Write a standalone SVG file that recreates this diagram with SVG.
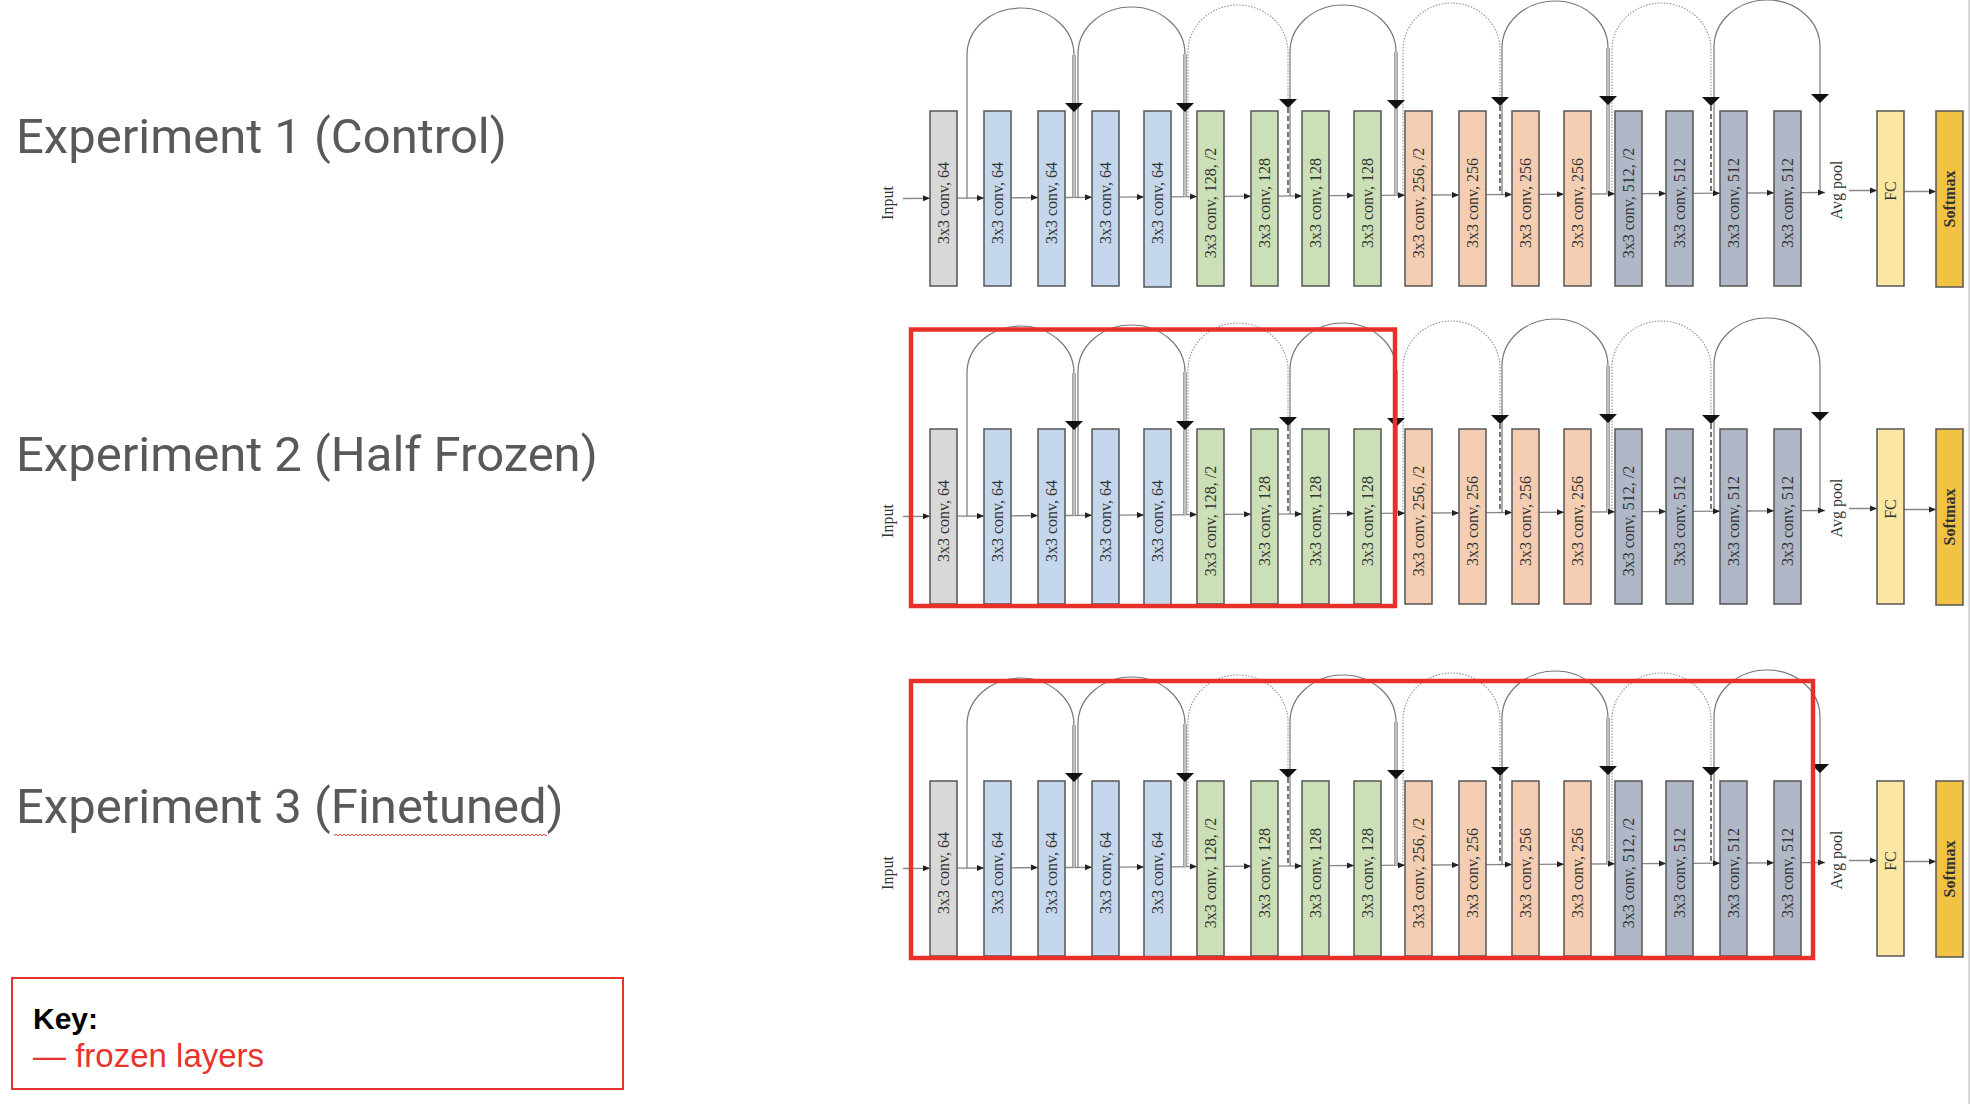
<svg xmlns="http://www.w3.org/2000/svg" width="1972" height="1104" viewBox="0 0 1972 1104">
<defs>
<style>
.lbl{font-family:Roboto,"Liberation Sans",sans-serif;font-size:49px;fill:#595959}
.n rect{stroke:#555;stroke-width:1.5}
.n text,.t{font-family:"Liberation Serif","Times New Roman",serif;font-size:16px;fill:#333;text-anchor:middle;dominant-baseline:central}
.c0{fill:#d8d8d8}.c1{fill:#c4d7ed}.c2{fill:#cce0b8}.c3{fill:#f4ceb2}.c4{fill:#b0b8c8}.c5{fill:#fbe6a2}.c6{fill:#f1c244}
.ml{stroke:#888;stroke-width:1.3;fill:none}
.ah{fill:#222}
.arc{stroke:#777;stroke-width:1.2;fill:none}
.arcd{stroke:#999;stroke-width:1.2;stroke-dasharray:1.5 1.5;fill:none}
.leg{stroke:#888;stroke-width:3.5;fill:none}
.legi{stroke:#e4e4e4;stroke-width:1.2;fill:none}
.legd{stroke:#555;stroke-width:1.6;stroke-dasharray:5 3;fill:none}
.tri{fill:#111}
.frame{fill:none;stroke:#e8302a;stroke-width:4.5}
</style>
<pattern id="sq" x="334" y="833" width="4" height="4" patternUnits="userSpaceOnUse"><path d="M0,3 L2,1 L4,3" stroke="#e53935" stroke-width="0.9" fill="none"/></pattern>
</defs>
<rect width="1972" height="1104" fill="#fff"/>
<line x1="1969" y1="0" x2="1969" y2="1104" stroke="#cfcfcf" stroke-width="1.5"/>

<g id="titles">
<text class="lbl" x="16" y="153">Experiment 1 (Control)</text>
<text class="lbl" x="16" y="471">Experiment 2 (Half Frozen)</text>
<text class="lbl" x="16" y="823">Experiment 3 (Finetuned)</text>
<rect x="334" y="833" width="213" height="4" fill="url(#sq)"/>
</g>

<g id="key">
<rect x="12" y="978" width="611" height="111" fill="none" stroke="#e8342c" stroke-width="2"/>
<text x="33" y="1029" font-family="'Liberation Sans',Arial,sans-serif" font-size="30" font-weight="bold" fill="#000">Key:</text>
<text x="33" y="1067" font-family="'Liberation Sans',Arial,sans-serif" font-size="33" fill="#e8342c">— frozen layers</text>
</g>

<g id="row1">
<g id="r1-connectors">
<path class="ml" d="M903,198.5 L930,198.3 M957,198.2 L984,198 M1011,197.8 L1038,197.6 M1065,197.5 L1092,197.3 M1119,197.1 L1144,196.9 M1171,196.8 L1197,196.6 M1224,196.4 L1251,196.2 M1278,196.1 L1302,195.9 M1329,195.7 L1354,195.5 M1381,195.4 L1405,195.2 M1432,195 L1459,194.9 M1486,194.7 L1512,194.5 M1539,194.4 L1564,194.2 M1591,194 L1615,193.8 M1642,193.7 L1666,193.5 M1693,193.3 L1720,193.2 M1747,193 L1774,192.8 M1801,192.7 L1825,192.5 M1849,190.5 L1877,190.5 M1904,191.5 L1936,191.5"/>
<path class="arc" d="M967,198.1 V55 A53.5,47 0 0 1 1074,55 M1078,197.4 V54 A53.5,47 0 0 1 1185,54 M1290,196 V52 A53,47 0 0 1 1396,52 M1502,194.6 V48 A53,47 0 0 1 1608,48 M1714,193.2 V47 A53,47 0 0 1 1820,47 V192.5"/>
<path class="arcd" d="M1188,196.7 V52 A50,47 0 0 1 1288,52 V100 M1403,195.2 V50 A48.5,47 0 0 1 1500,50 V98 M1612,193.9 V50 A49.5,47 0 0 1 1711,50 V98"/>
<path class="leg" d="M1074,55 V197.4 M1185,54 V196.7 M1396,52 V195.3 M1608,48 V193.9"/>
<path class="legi" d="M1074,55 V197.4 M1185,54 V196.7 M1396,52 V195.3 M1608,48 V193.9"/>
<path class="legd" d="M1288,108 V196 M1500,106 V194.6 M1711,106 V193.2"/>
<path class="tri" d="M1065,103 h18 l-9,9 z M1176,103 h18 l-9,9 z M1279,99 h18 l-9,9 z M1387,100 h18 l-9,9 z M1491,97 h18 l-9,9 z M1599,96 h18 l-9,9 z M1702,97 h18 l-9,9 z M1811,94 h18 l-9,9 z"/>
<path class="ah" d="M930,198.3 l-7,-3 v6 z M984,198 l-7,-3 v6 z M1038,197.6 l-7,-3 v6 z M1092,197.3 l-7,-3 v6 z M1144,196.9 l-7,-3 v6 z M1197,196.6 l-7,-3 v6 z M1251,196.2 l-7,-3 v6 z M1302,195.9 l-7,-3 v6 z M1354,195.5 l-7,-3 v6 z M1405,195.2 l-7,-3 v6 z M1459,194.9 l-7,-3 v6 z M1512,194.5 l-7,-3 v6 z M1564,194.2 l-7,-3 v6 z M1615,193.8 l-7,-3 v6 z M1666,193.5 l-7,-3 v6 z M1720,193.2 l-7,-3 v6 z M1774,192.8 l-7,-3 v6 z M1825,192.5 l-7,-3 v6 z M1877,190.5 l-7,-3 v6 z M1936,191.5 l-7,-3 v6 z"/>
</g>
<g id="r1-input"><text class="t" transform="translate(887,203) rotate(-90)" font-size="15" fill="#222">Input</text></g>
<g id="r1-b1" class="n" transform="translate(930,111)"><rect class="c0" width="27" height="175"/><text transform="translate(13.5,92) rotate(-90)">3x3 conv, 64</text></g>
<g id="r1-b2" class="n" transform="translate(984,111)"><rect class="c1" width="27" height="175"/><text transform="translate(13.5,92) rotate(-90)">3x3 conv, 64</text></g>
<g id="r1-b3" class="n" transform="translate(1038,111)"><rect class="c1" width="27" height="175"/><text transform="translate(13.5,92) rotate(-90)">3x3 conv, 64</text></g>
<g id="r1-b4" class="n" transform="translate(1092,111)"><rect class="c1" width="27" height="175"/><text transform="translate(13.5,92) rotate(-90)">3x3 conv, 64</text></g>
<g id="r1-b5" class="n" transform="translate(1144,111)"><rect class="c1" width="27" height="176"/><text transform="translate(13.5,92) rotate(-90)">3x3 conv, 64</text></g>
<g id="r1-b6" class="n" transform="translate(1197,111)"><rect class="c2" width="27" height="175"/><text transform="translate(13.5,92) rotate(-90)">3x3 conv, 128, /2</text></g>
<g id="r1-b7" class="n" transform="translate(1251,111)"><rect class="c2" width="27" height="175"/><text transform="translate(13.5,92) rotate(-90)">3x3 conv, 128</text></g>
<g id="r1-b8" class="n" transform="translate(1302,111)"><rect class="c2" width="27" height="175"/><text transform="translate(13.5,92) rotate(-90)">3x3 conv, 128</text></g>
<g id="r1-b9" class="n" transform="translate(1354,111)"><rect class="c2" width="27" height="175"/><text transform="translate(13.5,92) rotate(-90)">3x3 conv, 128</text></g>
<g id="r1-b10" class="n" transform="translate(1405,111)"><rect class="c3" width="27" height="175"/><text transform="translate(13.5,92) rotate(-90)">3x3 conv, 256, /2</text></g>
<g id="r1-b11" class="n" transform="translate(1459,111)"><rect class="c3" width="27" height="175"/><text transform="translate(13.5,92) rotate(-90)">3x3 conv, 256</text></g>
<g id="r1-b12" class="n" transform="translate(1512,111)"><rect class="c3" width="27" height="175"/><text transform="translate(13.5,92) rotate(-90)">3x3 conv, 256</text></g>
<g id="r1-b13" class="n" transform="translate(1564,111)"><rect class="c3" width="27" height="175"/><text transform="translate(13.5,92) rotate(-90)">3x3 conv, 256</text></g>
<g id="r1-b14" class="n" transform="translate(1615,111)"><rect class="c4" width="27" height="175"/><text transform="translate(13.5,92) rotate(-90)">3x3 conv, 512, /2</text></g>
<g id="r1-b15" class="n" transform="translate(1666,111)"><rect class="c4" width="27" height="175"/><text transform="translate(13.5,92) rotate(-90)">3x3 conv, 512</text></g>
<g id="r1-b16" class="n" transform="translate(1720,111)"><rect class="c4" width="27" height="175"/><text transform="translate(13.5,92) rotate(-90)">3x3 conv, 512</text></g>
<g id="r1-b17" class="n" transform="translate(1774,111)"><rect class="c4" width="27" height="175"/><text transform="translate(13.5,92) rotate(-90)">3x3 conv, 512</text></g>
<g id="r1-pool"><text class="t" transform="translate(1836,190) rotate(-90)" font-size="17">Avg pool</text></g>
<g id="r1-fc" class="n" transform="translate(1877,111)"><rect class="c5" width="27" height="175"/><text transform="translate(13.5,80) rotate(-90)">FC</text></g>
<g id="r1-softmax" class="n" transform="translate(1936,111)"><rect class="c6" width="27" height="176"/><text transform="translate(13.5,88) rotate(-90)" font-weight="bold">Softmax</text></g>
</g>

<g id="row2" transform="translate(0,318)">
<g id="r2-connectors">
<path class="ml" d="M903,198.5 L930,198.3 M957,198.2 L984,198 M1011,197.8 L1038,197.6 M1065,197.5 L1092,197.3 M1119,197.1 L1144,196.9 M1171,196.8 L1197,196.6 M1224,196.4 L1251,196.2 M1278,196.1 L1302,195.9 M1329,195.7 L1354,195.5 M1381,195.4 L1405,195.2 M1432,195 L1459,194.9 M1486,194.7 L1512,194.5 M1539,194.4 L1564,194.2 M1591,194 L1615,193.8 M1642,193.7 L1666,193.5 M1693,193.3 L1720,193.2 M1747,193 L1774,192.8 M1801,192.7 L1825,192.5 M1849,190.5 L1877,190.5 M1904,191.5 L1936,191.5"/>
<path class="arc" d="M967,198.1 V55 A53.5,47 0 0 1 1074,55 M1078,197.4 V54 A53.5,47 0 0 1 1185,54 M1290,196 V52 A53,47 0 0 1 1396,52 M1502,194.6 V48 A53,47 0 0 1 1608,48 M1714,193.2 V47 A53,47 0 0 1 1820,47 V192.5"/>
<path class="arcd" d="M1188,196.7 V52 A50,47 0 0 1 1288,52 V100 M1403,195.2 V50 A48.5,47 0 0 1 1500,50 V98 M1612,193.9 V50 A49.5,47 0 0 1 1711,50 V98"/>
<path class="leg" d="M1074,55 V197.4 M1185,54 V196.7 M1396,52 V195.3 M1608,48 V193.9"/>
<path class="legi" d="M1074,55 V197.4 M1185,54 V196.7 M1396,52 V195.3 M1608,48 V193.9"/>
<path class="legd" d="M1288,108 V196 M1500,106 V194.6 M1711,106 V193.2"/>
<path class="tri" d="M1065,103 h18 l-9,9 z M1176,103 h18 l-9,9 z M1279,99 h18 l-9,9 z M1387,100 h18 l-9,9 z M1491,97 h18 l-9,9 z M1599,96 h18 l-9,9 z M1702,97 h18 l-9,9 z M1811,94 h18 l-9,9 z"/>
<path class="ah" d="M930,198.3 l-7,-3 v6 z M984,198 l-7,-3 v6 z M1038,197.6 l-7,-3 v6 z M1092,197.3 l-7,-3 v6 z M1144,196.9 l-7,-3 v6 z M1197,196.6 l-7,-3 v6 z M1251,196.2 l-7,-3 v6 z M1302,195.9 l-7,-3 v6 z M1354,195.5 l-7,-3 v6 z M1405,195.2 l-7,-3 v6 z M1459,194.9 l-7,-3 v6 z M1512,194.5 l-7,-3 v6 z M1564,194.2 l-7,-3 v6 z M1615,193.8 l-7,-3 v6 z M1666,193.5 l-7,-3 v6 z M1720,193.2 l-7,-3 v6 z M1774,192.8 l-7,-3 v6 z M1825,192.5 l-7,-3 v6 z M1877,190.5 l-7,-3 v6 z M1936,191.5 l-7,-3 v6 z"/>
</g>
<g id="r2-input"><text class="t" transform="translate(887,203) rotate(-90)" font-size="15" fill="#222">Input</text></g>
<g id="r2-b1" class="n" transform="translate(930,111)"><rect class="c0" width="27" height="175"/><text transform="translate(13.5,92) rotate(-90)">3x3 conv, 64</text></g>
<g id="r2-b2" class="n" transform="translate(984,111)"><rect class="c1" width="27" height="175"/><text transform="translate(13.5,92) rotate(-90)">3x3 conv, 64</text></g>
<g id="r2-b3" class="n" transform="translate(1038,111)"><rect class="c1" width="27" height="175"/><text transform="translate(13.5,92) rotate(-90)">3x3 conv, 64</text></g>
<g id="r2-b4" class="n" transform="translate(1092,111)"><rect class="c1" width="27" height="175"/><text transform="translate(13.5,92) rotate(-90)">3x3 conv, 64</text></g>
<g id="r2-b5" class="n" transform="translate(1144,111)"><rect class="c1" width="27" height="176"/><text transform="translate(13.5,92) rotate(-90)">3x3 conv, 64</text></g>
<g id="r2-b6" class="n" transform="translate(1197,111)"><rect class="c2" width="27" height="175"/><text transform="translate(13.5,92) rotate(-90)">3x3 conv, 128, /2</text></g>
<g id="r2-b7" class="n" transform="translate(1251,111)"><rect class="c2" width="27" height="175"/><text transform="translate(13.5,92) rotate(-90)">3x3 conv, 128</text></g>
<g id="r2-b8" class="n" transform="translate(1302,111)"><rect class="c2" width="27" height="175"/><text transform="translate(13.5,92) rotate(-90)">3x3 conv, 128</text></g>
<g id="r2-b9" class="n" transform="translate(1354,111)"><rect class="c2" width="27" height="175"/><text transform="translate(13.5,92) rotate(-90)">3x3 conv, 128</text></g>
<g id="r2-b10" class="n" transform="translate(1405,111)"><rect class="c3" width="27" height="175"/><text transform="translate(13.5,92) rotate(-90)">3x3 conv, 256, /2</text></g>
<g id="r2-b11" class="n" transform="translate(1459,111)"><rect class="c3" width="27" height="175"/><text transform="translate(13.5,92) rotate(-90)">3x3 conv, 256</text></g>
<g id="r2-b12" class="n" transform="translate(1512,111)"><rect class="c3" width="27" height="175"/><text transform="translate(13.5,92) rotate(-90)">3x3 conv, 256</text></g>
<g id="r2-b13" class="n" transform="translate(1564,111)"><rect class="c3" width="27" height="175"/><text transform="translate(13.5,92) rotate(-90)">3x3 conv, 256</text></g>
<g id="r2-b14" class="n" transform="translate(1615,111)"><rect class="c4" width="27" height="175"/><text transform="translate(13.5,92) rotate(-90)">3x3 conv, 512, /2</text></g>
<g id="r2-b15" class="n" transform="translate(1666,111)"><rect class="c4" width="27" height="175"/><text transform="translate(13.5,92) rotate(-90)">3x3 conv, 512</text></g>
<g id="r2-b16" class="n" transform="translate(1720,111)"><rect class="c4" width="27" height="175"/><text transform="translate(13.5,92) rotate(-90)">3x3 conv, 512</text></g>
<g id="r2-b17" class="n" transform="translate(1774,111)"><rect class="c4" width="27" height="175"/><text transform="translate(13.5,92) rotate(-90)">3x3 conv, 512</text></g>
<g id="r2-pool"><text class="t" transform="translate(1836,190) rotate(-90)" font-size="17">Avg pool</text></g>
<g id="r2-fc" class="n" transform="translate(1877,111)"><rect class="c5" width="27" height="175"/><text transform="translate(13.5,80) rotate(-90)">FC</text></g>
<g id="r2-softmax" class="n" transform="translate(1936,111)"><rect class="c6" width="27" height="176"/><text transform="translate(13.5,88) rotate(-90)" font-weight="bold">Softmax</text></g>
<rect id="r2-frozen" class="frame" x="911" y="11.5" width="484" height="276.5"/>
</g>

<g id="row3" transform="translate(0,670)">
<g id="r3-connectors">
<path class="ml" d="M903,198.5 L930,198.3 M957,198.2 L984,198 M1011,197.8 L1038,197.6 M1065,197.5 L1092,197.3 M1119,197.1 L1144,196.9 M1171,196.8 L1197,196.6 M1224,196.4 L1251,196.2 M1278,196.1 L1302,195.9 M1329,195.7 L1354,195.5 M1381,195.4 L1405,195.2 M1432,195 L1459,194.9 M1486,194.7 L1512,194.5 M1539,194.4 L1564,194.2 M1591,194 L1615,193.8 M1642,193.7 L1666,193.5 M1693,193.3 L1720,193.2 M1747,193 L1774,192.8 M1801,192.7 L1825,192.5 M1849,190.5 L1877,190.5 M1904,191.5 L1936,191.5"/>
<path class="arc" d="M967,198.1 V55 A53.5,47 0 0 1 1074,55 M1078,197.4 V54 A53.5,47 0 0 1 1185,54 M1290,196 V52 A53,47 0 0 1 1396,52 M1502,194.6 V48 A53,47 0 0 1 1608,48 M1714,193.2 V47 A53,47 0 0 1 1820,47 V192.5"/>
<path class="arcd" d="M1188,196.7 V52 A50,47 0 0 1 1288,52 V100 M1403,195.2 V50 A48.5,47 0 0 1 1500,50 V98 M1612,193.9 V50 A49.5,47 0 0 1 1711,50 V98"/>
<path class="leg" d="M1074,55 V197.4 M1185,54 V196.7 M1396,52 V195.3 M1608,48 V193.9"/>
<path class="legi" d="M1074,55 V197.4 M1185,54 V196.7 M1396,52 V195.3 M1608,48 V193.9"/>
<path class="legd" d="M1288,108 V196 M1500,106 V194.6 M1711,106 V193.2"/>
<path class="tri" d="M1065,103 h18 l-9,9 z M1176,103 h18 l-9,9 z M1279,99 h18 l-9,9 z M1387,100 h18 l-9,9 z M1491,97 h18 l-9,9 z M1599,96 h18 l-9,9 z M1702,97 h18 l-9,9 z M1811,94 h18 l-9,9 z"/>
<path class="ah" d="M930,198.3 l-7,-3 v6 z M984,198 l-7,-3 v6 z M1038,197.6 l-7,-3 v6 z M1092,197.3 l-7,-3 v6 z M1144,196.9 l-7,-3 v6 z M1197,196.6 l-7,-3 v6 z M1251,196.2 l-7,-3 v6 z M1302,195.9 l-7,-3 v6 z M1354,195.5 l-7,-3 v6 z M1405,195.2 l-7,-3 v6 z M1459,194.9 l-7,-3 v6 z M1512,194.5 l-7,-3 v6 z M1564,194.2 l-7,-3 v6 z M1615,193.8 l-7,-3 v6 z M1666,193.5 l-7,-3 v6 z M1720,193.2 l-7,-3 v6 z M1774,192.8 l-7,-3 v6 z M1825,192.5 l-7,-3 v6 z M1877,190.5 l-7,-3 v6 z M1936,191.5 l-7,-3 v6 z"/>
</g>
<g id="r3-input"><text class="t" transform="translate(887,203) rotate(-90)" font-size="15" fill="#222">Input</text></g>
<g id="r3-b1" class="n" transform="translate(930,111)"><rect class="c0" width="27" height="175"/><text transform="translate(13.5,92) rotate(-90)">3x3 conv, 64</text></g>
<g id="r3-b2" class="n" transform="translate(984,111)"><rect class="c1" width="27" height="175"/><text transform="translate(13.5,92) rotate(-90)">3x3 conv, 64</text></g>
<g id="r3-b3" class="n" transform="translate(1038,111)"><rect class="c1" width="27" height="175"/><text transform="translate(13.5,92) rotate(-90)">3x3 conv, 64</text></g>
<g id="r3-b4" class="n" transform="translate(1092,111)"><rect class="c1" width="27" height="175"/><text transform="translate(13.5,92) rotate(-90)">3x3 conv, 64</text></g>
<g id="r3-b5" class="n" transform="translate(1144,111)"><rect class="c1" width="27" height="176"/><text transform="translate(13.5,92) rotate(-90)">3x3 conv, 64</text></g>
<g id="r3-b6" class="n" transform="translate(1197,111)"><rect class="c2" width="27" height="175"/><text transform="translate(13.5,92) rotate(-90)">3x3 conv, 128, /2</text></g>
<g id="r3-b7" class="n" transform="translate(1251,111)"><rect class="c2" width="27" height="175"/><text transform="translate(13.5,92) rotate(-90)">3x3 conv, 128</text></g>
<g id="r3-b8" class="n" transform="translate(1302,111)"><rect class="c2" width="27" height="175"/><text transform="translate(13.5,92) rotate(-90)">3x3 conv, 128</text></g>
<g id="r3-b9" class="n" transform="translate(1354,111)"><rect class="c2" width="27" height="175"/><text transform="translate(13.5,92) rotate(-90)">3x3 conv, 128</text></g>
<g id="r3-b10" class="n" transform="translate(1405,111)"><rect class="c3" width="27" height="175"/><text transform="translate(13.5,92) rotate(-90)">3x3 conv, 256, /2</text></g>
<g id="r3-b11" class="n" transform="translate(1459,111)"><rect class="c3" width="27" height="175"/><text transform="translate(13.5,92) rotate(-90)">3x3 conv, 256</text></g>
<g id="r3-b12" class="n" transform="translate(1512,111)"><rect class="c3" width="27" height="175"/><text transform="translate(13.5,92) rotate(-90)">3x3 conv, 256</text></g>
<g id="r3-b13" class="n" transform="translate(1564,111)"><rect class="c3" width="27" height="175"/><text transform="translate(13.5,92) rotate(-90)">3x3 conv, 256</text></g>
<g id="r3-b14" class="n" transform="translate(1615,111)"><rect class="c4" width="27" height="175"/><text transform="translate(13.5,92) rotate(-90)">3x3 conv, 512, /2</text></g>
<g id="r3-b15" class="n" transform="translate(1666,111)"><rect class="c4" width="27" height="175"/><text transform="translate(13.5,92) rotate(-90)">3x3 conv, 512</text></g>
<g id="r3-b16" class="n" transform="translate(1720,111)"><rect class="c4" width="27" height="175"/><text transform="translate(13.5,92) rotate(-90)">3x3 conv, 512</text></g>
<g id="r3-b17" class="n" transform="translate(1774,111)"><rect class="c4" width="27" height="175"/><text transform="translate(13.5,92) rotate(-90)">3x3 conv, 512</text></g>
<g id="r3-pool"><text class="t" transform="translate(1836,190) rotate(-90)" font-size="17">Avg pool</text></g>
<g id="r3-fc" class="n" transform="translate(1877,111)"><rect class="c5" width="27" height="175"/><text transform="translate(13.5,80) rotate(-90)">FC</text></g>
<g id="r3-softmax" class="n" transform="translate(1936,111)"><rect class="c6" width="27" height="176"/><text transform="translate(13.5,88) rotate(-90)" font-weight="bold">Softmax</text></g>
<rect id="r3-frozen" class="frame" x="911" y="11" width="902" height="277"/>
</g>
</svg>
